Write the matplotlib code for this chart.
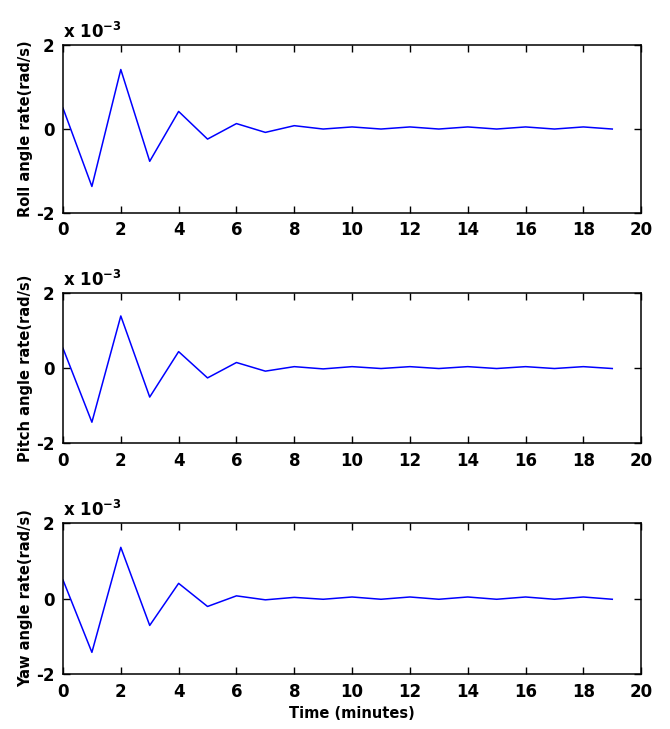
import numpy as np
import matplotlib.pyplot as plt

# time in minutes
t = list(range(20))

# angular rates in units of 1e-3 rad/s
roll = [0.50, -1.37, 1.42, -0.77, 0.42, -0.24, 0.13, -0.08, 0.08, 0.0,
        0.05, 0.0, 0.05, 0.0, 0.05, 0.0, 0.05, 0.0, 0.05, 0.0]
pitch = [0.53, -1.44, 1.39, -0.77, 0.44, -0.26, 0.15, -0.08, 0.04, -0.02,
         0.04, -0.01, 0.04, -0.01, 0.04, -0.01, 0.04, -0.01, 0.04, -0.01]
yaw = [0.49, -1.42, 1.35, -0.71, 0.40, -0.21, 0.07, -0.035, 0.03, -0.02,
       0.04, -0.02, 0.04, -0.02, 0.04, -0.02, 0.04, -0.02, 0.04, -0.02]

series = [roll, pitch, yaw]
ylabels = ['Roll angle rate(rad/s)', 'Pitch angle rate(rad/s)', 'Yaw angle rate(rad/s)']
xticks = list(range(0, 21, 2))
yticks = [-2, 0, 2]

plt.rcParams['font.family'] = ['DejaVu Sans']
plt.rcParams['font.weight'] = 'bold'
plt.rcParams['axes.unicode_minus'] = False

fig = plt.figure(figsize=(6.7, 7.29), dpi=100)

# axes boxes [left, bottom, width, height] in figure fractions
left, width = 0.094, 0.863
boxes = [(0.708, 0.230), (0.392, 0.206), (0.075, 0.208)]

for (bottom, height), y, lab in zip(boxes, series, ylabels):
    ax = fig.add_axes([left, bottom, width, height])
    ax.plot(t, y, color='#0000ff', linewidth=1.1)
    ax.set_xlim(0, 20)
    ax.set_ylim(-2, 2)
    ax.set_xticks(xticks)
    ax.set_yticks(yticks)
    ax.tick_params(direction='in', top=True, right=True, length=5, width=1,
                   labelsize=12, pad=6)
    for lbl in ax.get_xticklabels() + ax.get_yticklabels():
        lbl.set_fontweight('bold')
    for sp in ax.spines.values():
        sp.set_linewidth(1.1)
    ax.set_ylabel(lab, fontsize=10.5, fontweight='bold', labelpad=2)
    ax.text(0.0, 1.02, r'x 10$^{-3}$', transform=ax.transAxes, fontsize=12,
            fontweight='bold', ha='left', va='bottom')

ax.set_xlabel('Time (minutes)', fontsize=10.5, fontweight='bold', labelpad=4)

fig.savefig('out.png', dpi=100)
